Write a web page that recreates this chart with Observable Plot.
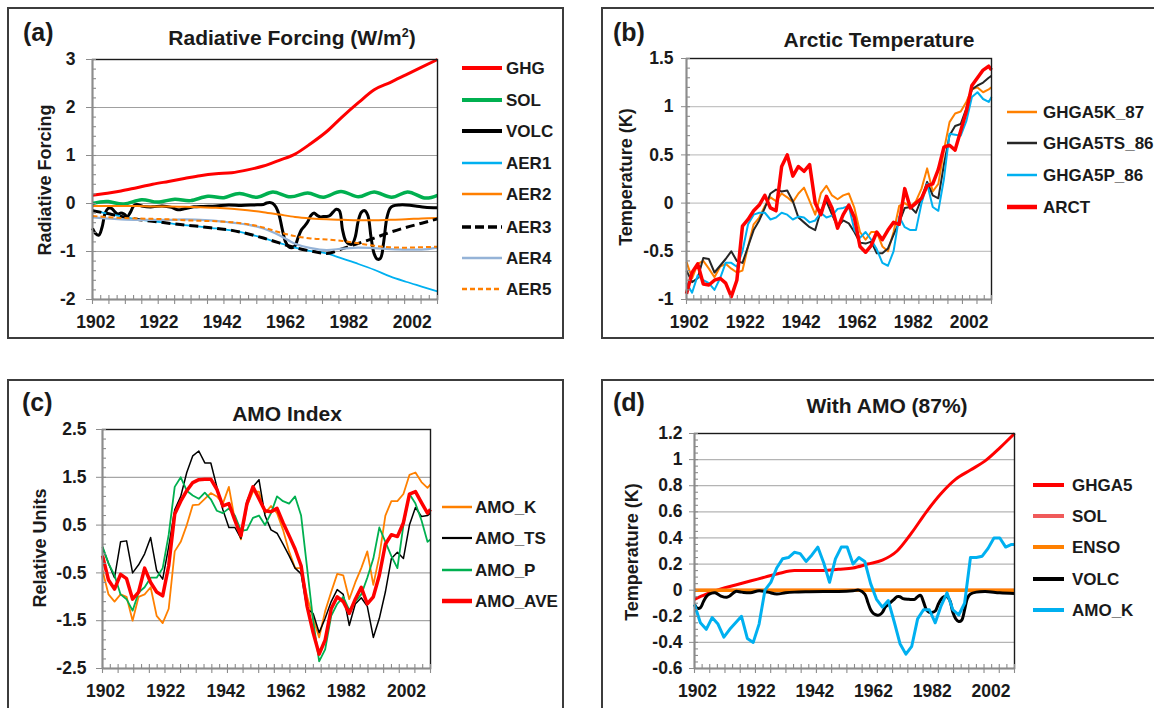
<!DOCTYPE html>
<html><head><meta charset="utf-8">
<script src="https://cdn.jsdelivr.net/npm/d3@7"></script>
<script src="https://cdn.jsdelivr.net/npm/@observablehq/plot@0.6"></script>
<style>
html,body{margin:0;padding:0;background:#fff;}
#root{position:relative;width:1154px;height:708px;overflow:hidden;background:#fff;font-family:'Liberation Sans',Arial,Helvetica,sans-serif;font-weight:bold;color:#1a1a1a;}
.frame{position:absolute;border:2px solid #3c3c3c;box-sizing:border-box;}
.abs{position:absolute;white-space:nowrap;line-height:1;}
.ttl{font-size:21px;transform:translate(-50%,-50%);}
.tag{font-size:25px;transform:translateY(-50%);}
.ylab{font-size:18px;transform:translate(-50%,-50%) rotate(-90deg);}
.leg{font-size:17px;transform:translateY(-50%);}
sup{font-size:0.6em;vertical-align:0.6em;}
</style></head><body><div id="root"></div><script>
// ---------- shared x positions ----------
const yrs2 = d3.range(1901, 2010, 2).concat([2010]);
const yrs5 = [1901].concat(d3.range(1905, 2011, 5));
const xLabels = [1902, 1922, 1942, 1962, 1982, 2002];

// ---------- (a) Radiative forcing ----------
const ghg  = [0.17,0.21,0.26,0.33,0.40,0.46,0.52,0.58,0.62,0.64,0.70,0.78,0.90,1.03,1.25,1.50,1.81,2.10,2.37,2.52,2.68,2.84,3.00];
const aer1 = [-0.15,-0.20,-0.27,-0.33,-0.37,-0.41,-0.45,-0.48,-0.52,-0.56,-0.63,-0.72,-0.82,-0.92,-0.99,-1.04,-1.15,-1.26,-1.38,-1.52,-1.63,-1.73,-1.83];
const aer2 = [-0.05,-0.05,-0.05,-0.05,-0.06,-0.06,-0.07,-0.08,-0.09,-0.11,-0.14,-0.18,-0.23,-0.28,-0.31,-0.33,-0.34,-0.35,-0.35,-0.34,-0.33,-0.31,-0.30];
const aer3 = [-0.15,-0.20,-0.27,-0.33,-0.37,-0.41,-0.45,-0.48,-0.52,-0.56,-0.63,-0.72,-0.82,-0.92,-0.99,-1.04,-0.94,-0.83,-0.72,-0.60,-0.50,-0.41,-0.32];
const aer4 = [-0.29,-0.31,-0.33,-0.34,-0.34,-0.34,-0.33,-0.34,-0.36,-0.40,-0.44,-0.52,-0.66,-0.84,-0.93,-0.97,-0.94,-0.92,-0.93,-0.95,-0.96,-0.96,-0.92];
const aer5 = [-0.26,-0.28,-0.30,-0.31,-0.32,-0.33,-0.35,-0.36,-0.37,-0.39,-0.43,-0.50,-0.60,-0.68,-0.73,-0.75,-0.78,-0.83,-0.88,-0.91,-0.92,-0.91,-0.90];
const solYears = [1901,1906,1911,1916.5,1921.5,1927,1932,1937.5,1942.5,1947.5,1953,1958,1963.5,1969,1974,1979.5,1985,1990,1995.5,2000.5,2005.5,2010];
const solVals  = [0.00,0.04,-0.01,0.08,0.03,0.09,0.06,0.15,0.12,0.21,0.13,0.24,0.14,0.22,0.13,0.25,0.14,0.24,0.13,0.24,0.12,0.17];
const volcYearsA = [1901,1902,1903,1904,1905,1906,1907,1908,1909,1910,1911,1912,1913,1914,1915,
  1917,1920,1923,1926,1928,1930,1933,1936,1940,1944,1948,1952,1955,
  1956,1957,1958,1959,1960,1961,1962,1963,1964,1965,1966,1967,1968,1969,1970,1971,1972,1973,1974,1975,1976,1977,1978,1979,1980,1981,1982,1983,1984,1985,1986,1987,1988,1989,1990,1991,1992,1993,1994,1995,1996,
  1998,2000,2003,2006,2010];
const volcValsA = [-0.52,-0.63,-0.66,-0.50,-0.20,-0.10,-0.10,-0.17,-0.22,-0.20,-0.22,-0.27,-0.18,-0.05,-0.02,
  -0.06,-0.07,-0.05,-0.08,-0.13,-0.11,-0.07,-0.06,-0.05,-0.03,-0.04,-0.03,-0.02,
  0.01,0.02,0.00,-0.08,-0.25,-0.55,-0.80,-0.90,-0.92,-0.88,-0.70,-0.55,-0.47,-0.38,-0.25,-0.20,-0.25,-0.28,-0.27,-0.27,-0.25,-0.18,-0.12,-0.15,-0.55,-0.78,-0.84,-0.85,-0.70,-0.35,-0.18,-0.15,-0.25,-0.70,-1.05,-1.16,-1.14,-0.80,-0.30,-0.10,-0.05,
  -0.03,-0.03,-0.05,-0.08,-0.09];

// ---------- (b) Arctic temperature (2-year steps) ----------
const ghga5k87 = [-0.61,-0.78,-0.63,-0.60,-0.68,-0.77,-0.66,-0.63,-0.68,-0.72,-0.70,-0.45,-0.22,-0.15,-0.03,0.06,0.02,0.10,0.06,0.01,0.10,0.16,0.02,-0.12,0.10,0.18,0.08,0.04,0.08,0.10,-0.05,-0.30,-0.38,-0.30,-0.30,-0.45,-0.50,-0.30,-0.03,0.00,-0.04,0.02,0.15,0.36,0.12,0.20,0.55,0.84,0.93,0.95,1.05,1.18,1.20,1.15,1.18,1.20];
const ghga5ts86 = [-0.70,-0.82,-0.78,-0.57,-0.58,-0.72,-0.65,-0.58,-0.50,-0.60,-0.62,-0.45,-0.28,-0.18,-0.05,0.10,0.14,0.12,0.13,0.02,-0.15,-0.20,-0.25,-0.28,-0.08,0.02,-0.12,-0.24,-0.18,-0.21,-0.30,-0.41,-0.42,-0.40,-0.52,-0.52,-0.47,-0.33,-0.20,-0.05,-0.04,-0.10,0.05,0.22,0.08,0.05,0.40,0.70,0.80,0.82,0.98,1.18,1.22,1.25,1.30,1.32];
const ghga5p86 = [-0.83,-0.93,-0.75,-0.80,-0.83,-0.90,-0.78,-0.62,-0.62,-0.66,-0.50,-0.22,-0.12,-0.10,-0.10,-0.17,-0.15,-0.10,-0.12,-0.17,-0.14,-0.15,-0.20,-0.18,-0.10,-0.15,-0.13,-0.06,-0.05,-0.03,-0.28,-0.36,-0.30,-0.38,-0.48,-0.62,-0.65,-0.50,-0.14,-0.25,-0.28,-0.28,0.00,0.20,-0.04,-0.08,0.25,0.72,0.71,0.70,0.85,1.10,1.15,1.08,1.05,1.10];
const arct = [-0.94,-0.72,-0.63,-0.84,-0.85,-0.80,-0.78,-0.83,-0.97,-0.80,-0.24,-0.17,-0.08,-0.02,0.08,-0.05,-0.08,0.38,0.50,0.28,0.38,0.33,0.40,0.00,-0.12,0.07,-0.05,-0.26,-0.12,-0.02,-0.15,-0.45,-0.51,-0.44,-0.30,-0.38,-0.28,-0.20,-0.22,0.15,-0.05,0.00,0.05,0.18,0.20,0.35,0.58,0.60,0.55,0.75,0.95,1.22,1.30,1.38,1.42,1.38];

// ---------- (c) AMO index (2-year steps) ----------
const amoK  = [-0.45,-0.95,-1.10,-0.95,-1.00,-1.50,-1.00,-0.95,-0.80,-1.40,-1.55,-1.25,-0.05,0.15,0.50,0.92,0.93,1.05,1.17,1.10,0.95,1.30,0.60,0.20,0.90,1.20,1.20,0.75,0.90,0.75,0.40,-0.05,-0.40,-0.40,-1.00,-1.45,-1.85,-1.30,-0.90,-0.52,-0.55,-1.05,-0.70,-0.40,-0.05,-0.75,-0.15,0.70,1.00,1.00,1.15,1.55,1.60,1.40,1.28,1.35];
const amoTS = [0.03,-0.30,-0.60,0.15,0.17,-0.50,-0.33,-0.10,0.24,-0.45,-0.63,0.05,0.82,1.10,1.60,1.95,2.05,1.80,1.80,1.30,0.82,0.45,0.45,0.22,1.00,1.30,1.45,0.70,0.40,0.33,0.10,-0.14,-0.40,-0.52,-1.25,-1.35,-1.75,-1.45,-1.10,-0.85,-0.95,-1.60,-1.15,-1.02,-1.20,-1.85,-1.45,-0.90,-0.20,-0.07,-0.20,0.50,0.87,0.68,0.70,0.75];
const amoP  = [0.05,-0.30,-0.55,-0.95,-1.05,-1.29,-0.91,-0.80,-0.60,-0.60,-0.40,0.30,1.30,1.50,1.22,1.12,1.05,1.18,1.04,0.80,0.75,0.85,0.70,0.38,0.40,0.65,0.70,0.50,0.75,1.10,1.00,0.95,1.10,0.70,-0.40,-1.50,-2.35,-2.10,-1.40,-1.15,-1.00,-1.28,-1.10,-0.95,-0.60,-0.20,0.45,0.15,-0.15,-0.40,0.50,1.15,0.95,0.60,0.15,0.20];
const amoAve = [-0.14,-0.65,-0.84,-0.53,-0.62,-1.05,-0.90,-0.40,-0.70,-0.90,-0.98,-0.35,0.73,1.00,1.22,1.39,1.45,1.46,1.46,1.25,0.90,0.95,0.60,0.28,0.95,1.30,1.05,0.80,0.78,0.85,0.55,0.28,0.00,-0.35,-1.20,-1.75,-2.20,-1.90,-1.25,-1.00,-1.10,-1.35,-1.05,-0.80,-1.15,-1.00,-0.55,0.10,0.30,0.26,0.55,1.15,1.20,0.97,0.75,0.83];

// ---------- (d) With AMO (87%) ----------
const ghga5 = [-0.07,-0.03,0.01,0.04,0.07,0.10,0.13,0.15,0.15,0.15,0.16,0.17,0.20,0.23,0.30,0.44,0.60,0.74,0.85,0.92,0.99,1.09,1.20];
const flatYears = [1901, 2010];
const solD  = [0, 0];
const ensoD = [0, 0];
const volcYearsD = [1901,1902,1903,1904,1905,1906,1908,1910,1912,1913,1915,1917,1920,1923,1926,1929,1932,1935,1940,1945,1950,1955,1957,1959,
  1960,1961,1962,1963,1964,1965,1966,1967,1968,1969,1970,1971,1972,1974,1976,
  1977,1978,1979,1980,1981,1982,1983,1984,1985,1986,1987,1988,1989,1990,1991,1992,1993,1994,1995,1997,2000,2005,2010];
const volcValsD = [-0.11,-0.14,-0.135,-0.09,-0.05,-0.03,-0.02,-0.045,-0.055,-0.045,-0.01,-0.015,-0.02,-0.005,-0.015,-0.03,-0.02,-0.015,-0.012,-0.01,-0.01,-0.005,0.0,-0.03,
  -0.09,-0.15,-0.18,-0.19,-0.19,-0.17,-0.13,-0.11,-0.09,-0.07,-0.05,-0.05,-0.065,-0.07,-0.07,
  -0.05,-0.04,-0.09,-0.15,-0.17,-0.17,-0.16,-0.11,-0.07,-0.05,-0.05,-0.08,-0.17,-0.22,-0.24,-0.23,-0.15,-0.06,-0.03,-0.015,-0.01,-0.02,-0.025];
const amoKd = [-0.11,-0.25,-0.30,-0.21,-0.26,-0.36,-0.30,-0.25,-0.20,-0.37,-0.40,-0.26,0.00,0.06,0.17,0.24,0.25,0.29,0.28,0.22,0.27,0.33,0.21,0.06,0.24,0.33,0.33,0.20,0.25,0.22,0.05,-0.07,-0.13,-0.08,-0.24,-0.41,-0.49,-0.43,-0.22,-0.15,-0.15,-0.25,-0.12,-0.02,-0.15,-0.19,-0.10,0.25,0.25,0.26,0.32,0.40,0.40,0.33,0.35,0.35];

// ---------- tick label arrays ----------
const yTicksA = [-2,-1,0,1,2,3];
const yTicksB = [-1,-0.5,0,0.5,1,1.5];
const yTicksC = [-2.5,-1.5,-0.5,0.5,1.5,2.5];
const yTicksD = [-0.6,-0.4,-0.2,0,0.2,0.4,0.6,0.8,1,1.2];

// ---------- helpers ----------
const pts = (years, vals) => years.map((y, i) => ({year: y, value: vals[i]}));
const root = document.getElementById("root");
function addDiv(cls, html, style) {
  const d = document.createElement("div");
  d.className = cls; d.innerHTML = html; Object.assign(d.style, style);
  root.appendChild(d); return d;
}
const AX = "#8c8c8c";
const XD = [1901, 2010];
const TICKFONT = {fontSize: 17.5, fontWeight: "bold", fontFamily: "'Liberation Sans', Arial, sans-serif", fill: "#1a1a1a"};

function makePanel(cfg) {
  const {box, plot, ydom, yticks, minorStep, grid, lines, ytick} = cfg;
  const ml = plot.x0 - box.left, mr = box.left + box.width - plot.x1;
  const mt = plot.y0 - box.top, mb = box.top + box.height - plot.y1;
  const ux = (XD[1] - XD[0]) / (plot.x1 - plot.x0);
  const uy = (ydom[1] - ydom[0]) / (plot.y1 - plot.y0);
  const nMinor = Math.round((ydom[1] - ydom[0]) / minorStep);
  const yMinor = d3.range(nMinor + 1).map(i => ydom[0] + i * minorStep);
  const xIn = d3.range(43).map(i => XD[0] + i * (XD[1] - XD[0]) / 42);
  const xOut = xIn.filter((d, i) => i % 2 === 0);
  const svg = Plot.plot({
    width: box.width, height: box.height,
    marginLeft: ml, marginRight: mr, marginTop: mt, marginBottom: mb,
    style: {background: "none", overflow: "visible", fontFamily: "'Liberation Sans', Arial, sans-serif", fontSize: "17.5px", fontWeight: "bold", color: "#1a1a1a"},
    x: {domain: XD, label: null},
    y: {domain: ydom, label: null},
    marks: [
      Plot.gridY(yticks.filter(v => v > ydom[0] && v < ydom[1]), {stroke: grid, strokeOpacity: 1, strokeWidth: 1.2}),
      ...lines.map(L => Plot.line(L.data, {x: "year", y: "value", stroke: L.color, strokeWidth: L.width,
        strokeDasharray: L.dash || null, curve: L.curve || "linear", strokeLinejoin: "round", strokeLinecap: "butt"})),
      Plot.frame({stroke: "#1a1a1a", strokeWidth: 1.4}),
      Plot.ruleX([XD[0]], {stroke: AX, strokeWidth: 1.6}),
      Plot.ruleY([ydom[0]], {stroke: AX, strokeWidth: 1.6}),
      Plot.ruleY(yMinor, {x1: XD[0], x2: XD[0] + 4 * ux, stroke: AX, strokeWidth: 1.1}),
      Plot.ruleX(xIn, {y1: ydom[0], y2: ydom[0] + 4 * uy, stroke: AX, strokeWidth: 1.1}),
      Plot.ruleX(xOut, {y1: ydom[0], y2: ydom[0] - 5 * uy, stroke: AX, strokeWidth: 1.1}),
      Plot.axisY({ticks: yticks, tickSize: ytick.size, tickPadding: ytick.pad, tickFormat: d => String(d), stroke: AX, label: null, ...TICKFONT}),
      Plot.axisX({ticks: xLabels, tickSize: 0, tickPadding: 16.5, tickFormat: d => String(d), label: null, ...TICKFONT})
    ]
  });
  svg.style.position = "absolute";
  svg.style.left = box.left + "px";
  svg.style.top = box.top + "px";
  root.appendChild(svg);
}

function swatch(x0, x1, y, color, width, dash) {
  const w = x1 - x0;
  addDiv("abs", `<svg width="${w}" height="10" style="display:block"><line x1="0" x2="${w}" y1="5" y2="5" stroke="${color}" stroke-width="${width}" ${dash ? `stroke-dasharray="${dash}"` : ""}/></svg>`,
    {left: x0 + "px", top: (y - 5) + "px"});
}
function legend(items, sx0, sx1, tx, ys) {
  items.forEach((it, i) => {
    swatch(sx0, sx1, ys[i], it.color, it.lw, it.ldash);
    addDiv("abs leg", it.name, {left: tx + "px", top: ys[i] + "px"});
  });
}

// ---------- frames ----------
addDiv("frame", "", {left: "7px", top: "7px", width: "557px", height: "332px"});
addDiv("frame", "", {left: "601px", top: "7px", width: "600px", height: "332px"});
addDiv("frame", "", {left: "7px", top: "379px", width: "557px", height: "400px"});
addDiv("frame", "", {left: "601px", top: "379px", width: "600px", height: "400px"});

// ---------- panel a ----------
const linesA = [
  {name: "GHG",  data: pts(yrs5, ghg), color: "#ff0000", width: 3, curve: "monotone-x", lw: 4},
  {name: "SOL",  data: pts(solYears, solVals), color: "#00b050", width: 3.5, curve: "natural", lw: 4},
  {name: "VOLC", data: pts(volcYearsA, volcValsA), color: "#000000", width: 3, curve: "catmull-rom", lw: 4},
  {name: "AER1", data: pts(yrs5, aer1), color: "#00b0f0", width: 1.8, curve: "monotone-x", lw: 2.5},
  {name: "AER2", data: pts(yrs5, aer2), color: "#ff7f00", width: 2, curve: "monotone-x", lw: 2.5},
  {name: "AER3", data: pts(yrs5, aer3), color: "#000000", width: 3, curve: "monotone-x", dash: "9,5", lw: 3.5, ldash: "9,4"},
  {name: "AER4", data: pts(yrs5, aer4), color: "#95b3d7", width: 2.2, curve: "monotone-x", lw: 2.5},
  {name: "AER5", data: pts(yrs5, aer5), color: "#ff7f00", width: 2, curve: "monotone-x", dash: "5,3", lw: 2.5, ldash: "5,3"}
];
makePanel({box: {left: 0, top: 0, width: 460, height: 345}, plot: {x0: 92, x1: 437, y0: 59, y1: 299},
  ydom: [-2, 3], yticks: yTicksA, minorStep: 0.2, grid: "#a0a0a0", lines: linesA, ytick: {size: 6, pad: 11}});

// ---------- panel b ----------
const linesB = [
  {name: "GHGA5K_87",  data: pts(yrs2, ghga5k87),  color: "#ff8000", width: 2, lw: 2.5},
  {name: "GHGA5TS_86", data: pts(yrs2, ghga5ts86), color: "#262626", width: 2, lw: 2.5},
  {name: "GHGA5P_86",  data: pts(yrs2, ghga5p86),  color: "#00b0f0", width: 2, lw: 2.5},
  {name: "ARCT",       data: pts(yrs2, arct),      color: "#ff0000", width: 3.5, lw: 4.5}
];
makePanel({box: {left: 590, top: 0, width: 420, height: 345}, plot: {x0: 686, x1: 991, y0: 58, y1: 299},
  ydom: [-1, 1.5], yticks: yTicksB, minorStep: 0.1, grid: "#c4c4c4", lines: linesB, ytick: {size: 5, pad: 8}});

// ---------- panel c ----------
const linesC = [
  {name: "AMO_K",   data: pts(yrs2, amoK),   color: "#ff8000", width: 1.8, lw: 2.5},
  {name: "AMO_TS",  data: pts(yrs2, amoTS),  color: "#000000", width: 1.5, lw: 2.2},
  {name: "AMO_P",   data: pts(yrs2, amoP),   color: "#00b050", width: 1.8, lw: 2.5},
  {name: "AMO_AVE", data: pts(yrs2, amoAve), color: "#ff0000", width: 3.5, lw: 4.5}
];
makePanel({box: {left: 0, top: 370, width: 450, height: 338}, plot: {x0: 102, x1: 430, y0: 429, y1: 668},
  ydom: [-2.5, 2.5], yticks: yTicksC, minorStep: 0.2, grid: "#a6a6a6", lines: linesC, ytick: {size: 6, pad: 10}});

// ---------- panel d ----------
const linesD = [
  {name: "GHGA5", data: pts(yrs5, ghga5), color: "#ff0000", width: 3, curve: "monotone-x", lw: 4},
  {name: "SOL",   data: pts(flatYears, solD), color: "#f05a5a", width: 3, lw: 4},
  {name: "ENSO",  data: pts(flatYears, ensoD), color: "#ff8000", width: 3.5, lw: 4},
  {name: "VOLC",  data: pts(volcYearsD, volcValsD), color: "#000000", width: 3, curve: "catmull-rom", lw: 4},
  {name: "AMO_K", data: pts(yrs2, amoKd), color: "#00b0f0", width: 3, lw: 4}
];
makePanel({box: {left: 590, top: 370, width: 440, height: 338}, plot: {x0: 694, x1: 1014, y0: 433, y1: 668},
  ydom: [-0.6, 1.2], yticks: yTicksD, minorStep: 0.05, grid: "#b4b4b4", lines: linesD, ytick: {size: 5, pad: 7}});

// ---------- texts ----------
addDiv("abs tag", "(a)", {left: "23px", top: "32px"});
addDiv("abs tag", "(b)", {left: "613px", top: "32px"});
addDiv("abs tag", "(c)", {left: "22px", top: "402px"});
addDiv("abs tag", "(d)", {left: "613px", top: "402px"});
addDiv("abs ttl", "Radiative Forcing (W/m<sup>2</sup>)", {left: "292px", top: "37px"});
addDiv("abs ttl", "Arctic Temperature", {left: "879px", top: "39px"});
addDiv("abs ttl", "AMO Index", {left: "287px", top: "413px"});
addDiv("abs ttl", "With AMO (87%)", {left: "887px", top: "405px"});
addDiv("abs ylab", "Radiative Forcing", {left: "45px", top: "180px"});
addDiv("abs ylab", "Temperature (K)", {left: "626px", top: "177px"});
addDiv("abs ylab", "Relative Units", {left: "40px", top: "548px"});
addDiv("abs ylab", "Temperature (K)", {left: "632px", top: "552px"});

legend(linesA, 462, 502, 506, [68.3, 100, 131, 162.7, 194.3, 226.7, 257.7, 289.3]);
legend(linesB, 1007, 1037, 1043, [111.5, 143.3, 175, 206.7]);
legend(linesC, 442, 472, 475, [506.7, 538.3, 570, 600.7]);
legend(linesD, 1033, 1064, 1072, [485, 516, 547.3, 579.3, 610]);
</script></body></html>
